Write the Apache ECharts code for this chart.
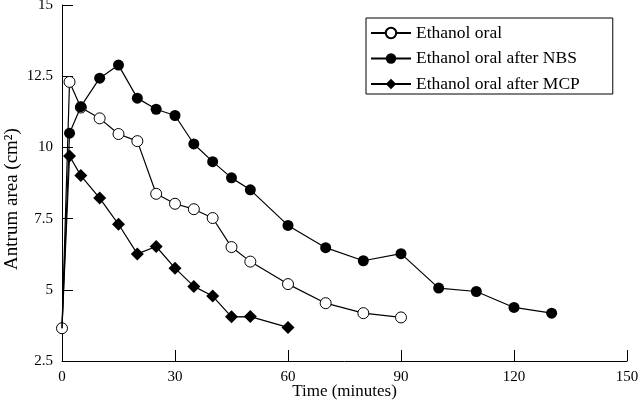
<!DOCTYPE html>
<html>
<head>
<meta charset="utf-8">
<script src="https://cdn.jsdelivr.net/npm/echarts@6/dist/echarts.min.js"></script>
<style>html,body{margin:0;padding:0;background:#fff}#c{width:640px;height:406px}</style>
</head>
<body>
<div id="c"></div>
<script>
var timesOral = [0, 2, 5, 10, 15, 20, 25, 30, 35, 40, 45, 50, 60, 70, 80, 90];
var valuesOral = [3.65, 12.3, 11.4, 11.02, 10.47, 10.22, 8.37, 8.02, 7.83, 7.52, 6.5, 5.99, 5.2, 4.53, 4.18, 4.03];
var timesNBS = [0, 2, 5, 10, 15, 20, 25, 30, 35, 40, 45, 50, 60, 70, 80, 90, 100, 110, 120, 130];
var valuesNBS = [3.65, 10.5, 11.43, 12.43, 12.89, 11.73, 11.34, 11.12, 10.12, 9.5, 8.93, 8.51, 7.26, 6.48, 6.02, 6.27, 5.06, 4.94, 4.38, 4.18];
var timesMCP = [0, 2, 5, 10, 15, 20, 25, 30, 35, 40, 45, 50, 60];
var valuesMCP = [3.65, 9.7, 9.01, 8.22, 7.3, 6.26, 6.52, 5.76, 5.12, 4.78, 4.05, 4.06, 3.68];
var seriesNames = ['Ethanol oral', 'Ethanol oral after NBS', 'Ethanol oral after MCP'];
var xTicks = {min: 0, max: 150, interval: 30};
var yTicks = {min: 2.5, max: 15, interval: 2.5};

function pairs(t, v, hideFirst) {
  return t.map(function (x, i) {
    var d = {value: [x, v[i]]};
    if (hideFirst && i === 0) d.symbol = 'none';
    return d;
  });
}
var font = 'Liberation Serif';
var chart = echarts.init(document.getElementById('c'));
chart.setOption({
  animation: false,
  backgroundColor: '#fff',
  grid: {left: 62, right: 13, top: 5, bottom: 45, containLabel: false, outerBoundsMode: 'none'},
  legend: {
    orient: 'vertical',
    left: 366, top: 18,
    data: seriesNames,
    backgroundColor: '#fff',
    borderColor: '#000', borderWidth: 1, borderRadius: 0,
    padding: [6, 33, 1, 4],
    itemWidth: 40, itemHeight: 13, itemGap: 7.5,
    textStyle: {fontFamily: font, fontSize: 17.5, lineHeight: 17, color: '#000'}
  },
  xAxis: {
    type: 'value', min: xTicks.min, max: xTicks.max, interval: xTicks.interval,
    name: 'Time (minutes)', nameLocation: 'middle', nameGap: 22, nameMoveOverlap: false,
    nameTextStyle: {fontFamily: font, fontSize: 17, color: '#000'},
    axisLine: {show: true, lineStyle: {color: '#000', width: 1}},
    axisTick: {show: true, inside: true, length: 11, lineStyle: {color: '#000'}},
    axisLabel: {fontFamily: font, fontSize: 15, color: '#000', margin: 9},
    splitLine: {show: false}
  },
  yAxis: {
    type: 'value', min: yTicks.min, max: yTicks.max, interval: yTicks.interval,
    name: 'Antrum area (cm\u00B2)', nameLocation: 'middle', nameGap: 40, nameMoveOverlap: false,
    nameTextStyle: {fontFamily: font, fontSize: 19, color: '#000', padding: [0, 32, 0, 0]},
    axisLine: {show: true, lineStyle: {color: '#000', width: 1}},
    axisTick: {show: true, inside: true, length: 11, lineStyle: {color: '#000'}},
    axisLabel: {fontFamily: font, fontSize: 15, color: '#000', margin: 9},
    splitLine: {show: false}
  },
  series: [
    {
      name: seriesNames[0], type: 'line', data: pairs(timesOral, valuesOral, false),
      symbol: 'circle', symbolSize: 11, z: 2,
      lineStyle: {color: '#000', width: 1.2},
      itemStyle: {color: '#fff', borderColor: '#000', borderWidth: 1},
      emphasis: {disabled: true}
    },
    {
      name: seriesNames[1], type: 'line', data: pairs(timesNBS, valuesNBS, true),
      symbol: 'circle', symbolSize: 11, z: 3,
      lineStyle: {color: '#000', width: 1.2},
      itemStyle: {color: '#000', borderColor: '#000', borderWidth: 0},
      emphasis: {disabled: true}
    },
    {
      name: seriesNames[2], type: 'line', data: pairs(timesMCP, valuesMCP, true),
      symbol: 'diamond', symbolSize: 13, z: 3,
      lineStyle: {color: '#000', width: 1.2},
      itemStyle: {color: '#000', borderColor: '#000', borderWidth: 0},
      emphasis: {disabled: true}
    }
  ]
});
</script>
</body>
</html>
